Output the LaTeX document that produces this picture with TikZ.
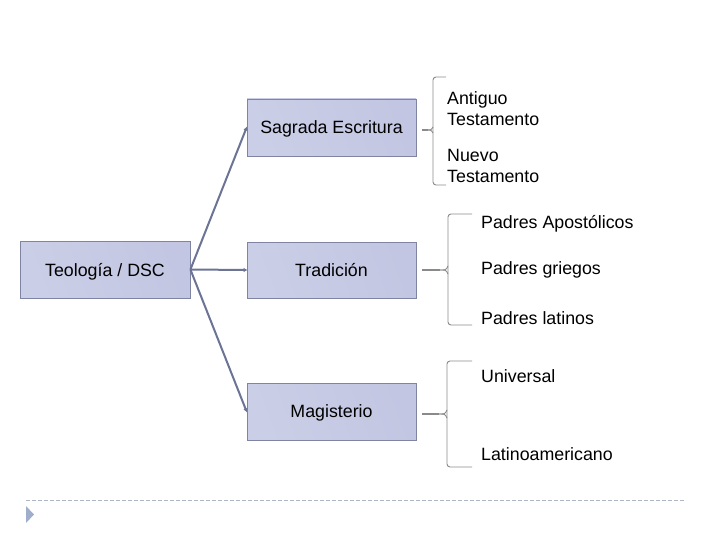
\documentclass[tikz,border=0pt]{standalone}
\usepackage{fontspec}
\setmainfont{Liberation Sans}
\usetikzlibrary{arrows.meta}
\definecolor{boxlight}{HTML}{CACEE6}
\definecolor{boxmid}{HTML}{A6ACD2}
\definecolor{boxright}{HTML}{C2C6E2}
\definecolor{boxborder}{HTML}{7E84A2}
\definecolor{conncol}{HTML}{6C7496}
\definecolor{bracecol}{HTML}{8A8A8A}
\definecolor{dashcol}{HTML}{AEB6C6}
\definecolor{tricol}{HTML}{9EAECB}
\begin{document}
\begin{tikzpicture}[x=1pt,y=-1pt,
  topic/.style={draw=boxborder, line width=0.8pt, left color=boxlight, middle color=boxmid, right color=boxright,
    shading angle=110,
    minimum width=169pt, minimum height=57pt, inner sep=0pt, text depth=0pt,
    font=\fontsize{17.8}{21}\selectfont, text=black},
  conn/.style={draw=conncol, line width=2pt, -{Latex[length=4pt,width=4.5pt]}, shorten >=-1pt},
  brace/.style={draw=bracecol, line width=0.9pt, rounded corners=3pt},
  leaf/.style={anchor=west, align=left, inner sep=0pt, font=\fontsize{17.8}{21}\selectfont, text=black}
]
\useasboundingbox (0,0) rectangle (720,540);

% boxes
\node[topic, minimum width=170pt] (teo) at (105,269.5) {Teología / DSC};
\node[topic] (sag) at (331.5,127.5) {Sagrada Escritura};
\node[topic, minimum height=56pt] (tra) at (331.5,270) {Tradición};
\node[topic] (mag) at (331.5,411.5) {Magisterio};

% connectors
\draw[conn] (teo.east) -- (sag.west);
\draw[conn] (teo.east) -- (tra.west);
\draw[conn] (teo.east) -- (mag.west);

% brace coordinates
\coordinate (b1tip) at (422,130);
\coordinate (b1top) at (446,77);
\coordinate (b1bot) at (446,185);
\coordinate (b2tip) at (422,270);
\coordinate (b2top) at (472,214);
\coordinate (b2bot) at (472,325);
\coordinate (b3tip) at (422,414);
\coordinate (b3top) at (472,361);
\coordinate (b3bot) at (472,467);

% braces
\draw[brace] (b1top) -- (433,77) -- (433,185) -- (b1bot);
\draw[brace, line width=1.3pt] (b1tip) -- (428,130);
\draw[brace] (428,130) .. controls (431,130) .. (433,127);
\draw[brace] (428,130) .. controls (431,130) .. (433,133);

\draw[brace] (b2top) -- (448,214) -- (448,325) -- (b2bot);
\draw[brace, line width=1.3pt] (b2tip) -- (440,270);
\draw[brace] (440,270) .. controls (446,270) .. (448,266);
\draw[brace] (440,270) .. controls (446,270) .. (448,274);

\draw[brace] (b3top) -- (447,361) -- (447,467) -- (b3bot);
\draw[brace, line width=1.3pt] (b3tip) -- (439,414);
\draw[brace] (439,414) .. controls (445,414) .. (447,410);
\draw[brace] (439,414) .. controls (445,414) .. (447,418);

% leaves
\node[leaf] (at) at (447,108.5) {Antiguo\\Testamento};
\node[leaf] (nt) at (447,165.5) {Nuevo\\Testamento};
\node[leaf] (pa) at (481,224) {Padres Apostólicos};
\node[leaf] (pg) at (481,270) {Padres griegos};
\node[leaf] (pl) at (481,318) {Padres latinos};
\node[leaf] (un) at (481,376) {Universal};
\node[leaf] (la) at (481,454) {Latinoamericano};

% footer
\coordinate (dl) at (26,500.5);
\coordinate (dr) at (686,500.5);
\draw[dashcol, line width=0.8pt, dash pattern=on 4pt off 2pt] (dl) -- (dr);
\fill[tricol] (26,506) -- (34,514.5) -- (26,523) -- cycle;
\end{tikzpicture}
\end{document}
